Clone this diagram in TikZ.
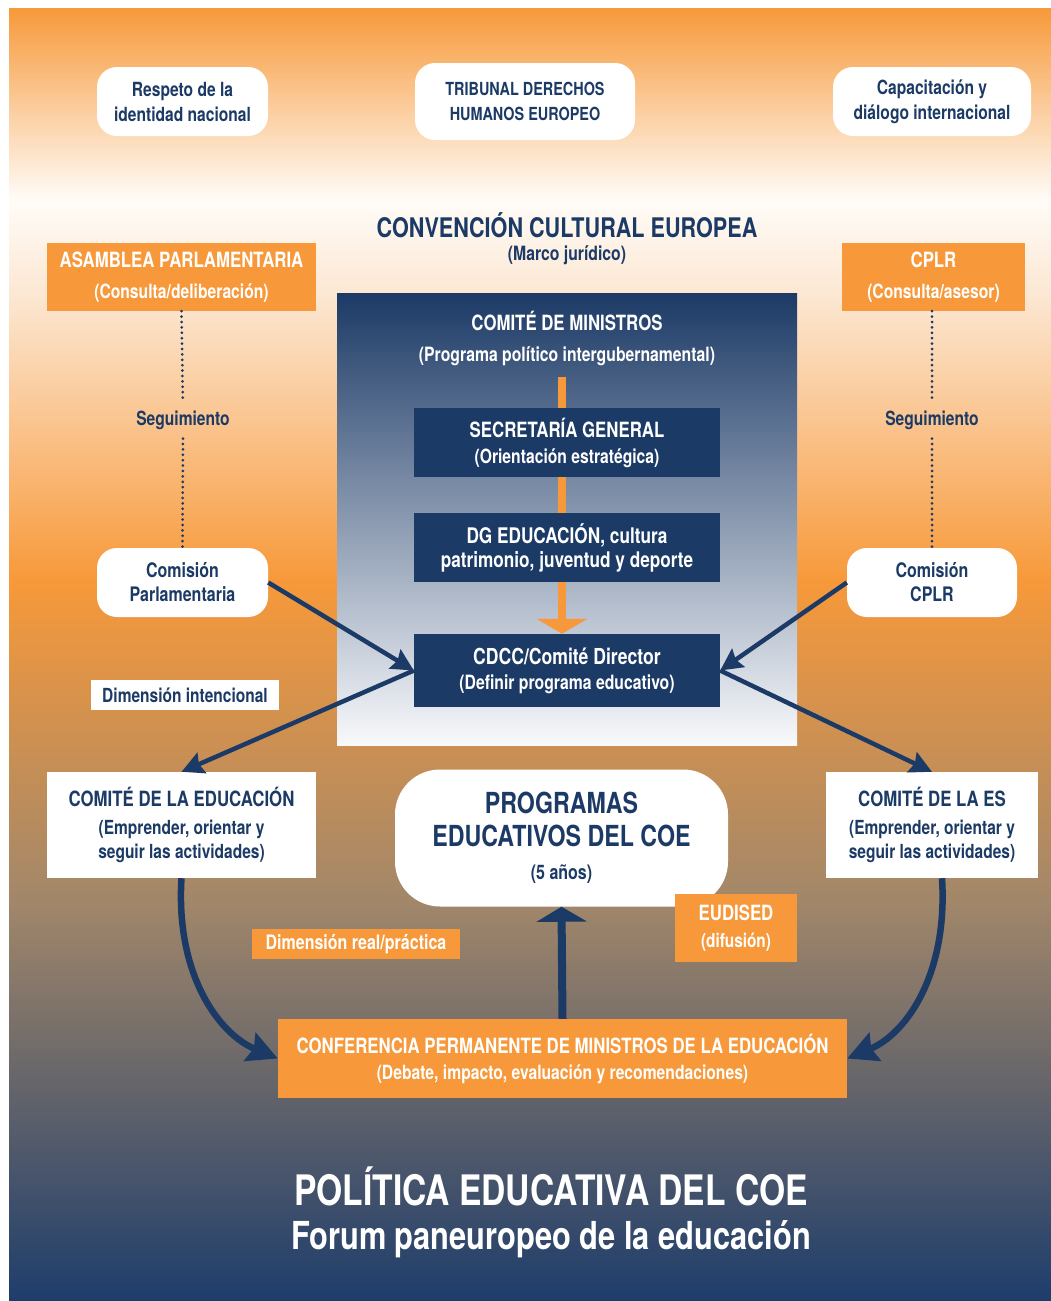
\documentclass[tikz,border=0pt]{standalone}
\usepackage{fontspec}
\setmainfont{TeX Gyre Heros}[FakeStretch=0.8]
\usetikzlibrary{arrows.meta}

\definecolor{coenavy}{HTML}{1C3A66}
\definecolor{coeorange}{HTML}{F7993A}
\definecolor{peach}{HTML}{FCE6D0}
\definecolor{nearwhite}{HTML}{FFFCF8}
\definecolor{bronze}{HTML}{A2876A}
\definecolor{deepnavy}{HTML}{1E3D6B}
\definecolor{paleblue}{HTML}{F8F9FB}

\pgfdeclarelayer{backdrop}
\pgfdeclarelayer{underlay}
\pgfsetlayers{backdrop,underlay,main}

\newcommand\boxhead[1]{{\fontsize{21}{21}\selectfont #1}}
\newcommand\proghead[1]{{\fontsize{29}{29}\selectfont #1}}

\tikzset{
    pill/.style = {fill=white, text=coenavy, rounded corners=20pt, align=center,
        inner sep=0pt, font=\bfseries\fontsize{19.5}{25}\selectfont},
    navybox/.style = {fill=coenavy, text=white, align=center, inner sep=0pt,
        minimum width=306pt, minimum height=69pt},
    orangebox/.style = {fill=coeorange, text=white, align=center, inner sep=0pt,
        font=\bfseries\fontsize{19.6}{31}\selectfont},
    whitebox/.style = {fill=white, text=coenavy, align=center, inner sep=0pt,
        font=\bfseries\fontsize{19.4}{24}\selectfont},
    label/.style = {text=coenavy, inner sep=0pt, font=\bfseries\fontsize{19.5}{22}\selectfont},
    follow/.style = {draw=coenavy, line width=3pt, line cap=round, dash pattern=on 0pt off 5.4pt},
    link/.style = {draw=coenavy, line width=4.5pt, -{Stealth[length=22pt,width=22pt,inset=3pt]}},
    bend link/.style = {draw=coenavy, line width=6.5pt, -{Stealth[length=30pt,width=30pt,inset=4pt]}},
    flow/.style = {line width=8pt, -{Triangle[length=15pt,width=50pt]}}
}

\begin{document}
\begin{tikzpicture}[x=1pt, y=-1pt]
    \useasboundingbox (0,0) rectangle (1051,1301);

    \begin{pgfonlayer}{backdrop}
        \fill[white] (0,0) rectangle (1051,1301);
        \shade[top color=coeorange, bottom color=nearwhite] (9,8) rectangle (1051,200.5);
        \shade[top color=nearwhite, bottom color=peach] (9,200) rectangle (1051,300.5);
        \shade[top color=peach, bottom color=coeorange] (9,300) rectangle (1051,580.5);
        \shade[top color=coeorange, bottom color=bronze] (9,580) rectangle (1051,900.5);
        \shade[top color=bronze, bottom color=deepnavy] (9,900) rectangle (1051,1301);
        \shade[top color=coenavy, bottom color=paleblue] (337,293) rectangle (797,745);
    \end{pgfonlayer}

    \node[pill, minimum width=171pt, minimum height=69pt] (respeto) at (182.5,101.5)
        {Respeto de la\\identidad nacional};
    \node[pill, minimum width=220pt, minimum height=77pt, font=\bfseries\fontsize{18}{25}\selectfont]
        (tribunal) at (525,101.5) {TRIBUNAL DERECHOS\\HUMANOS EUROPEO};
    \node[pill, minimum width=198pt, minimum height=69pt] (capacidad) at (932,101.5)
        {Capacitación y\\diálogo internacional};

    \node[label, font=\bfseries\fontsize{27}{30}\selectfont] (convencion) at (567,225)
        {CONVENCIÓN CULTURAL EUROPEA};
    \node[label, font=\bfseries\fontsize{19.7}{22}\selectfont] (marco) at (567,255.5)
        {(Marco jurídico)};

    \node[orangebox, minimum width=269pt, minimum height=68pt] (asamblea) at (181.5,277)
        {\boxhead{ASAMBLEA PARLAMENTARIA}\\(Consulta/deliberación)};
    \node[orangebox, minimum width=183pt, minimum height=68pt] (cplr) at (933.5,277)
        {\boxhead{CPLR}\\(Consulta/asesor)};

    \node[text=white, align=center, inner sep=0pt, font=\bfseries\fontsize{19.7}{31}\selectfont]
        (ministros) at (567,338)
        {\boxhead{COMITÉ DE MINISTROS}\\(Programa político intergubernamental)};
    \node[navybox, font=\bfseries\fontsize{19.6}{26}\selectfont] (secretaria) at (567,442.5)
        {\boxhead{SECRETARÍA GENERAL}\\(Orientación estratégica)};
    \node[navybox, font=\bfseries\fontsize{21.5}{24}\selectfont] (dg) at (567,547.5)
        {DG EDUCACIÓN, cultura\\patrimonio, juventud y deporte};
    \node[navybox, minimum height=73pt, font=\bfseries\fontsize{19.7}{25}\selectfont] (cdcc) at (567,670.5)
        {{\fontsize{22}{22}\selectfont CDCC/Comité Director}\\(Definir programa educativo)};

    \node[label] (seguirL) at (183,420) {Seguimiento};
    \node[label] (seguirR) at (932,420) {Seguimiento};

    \node[pill, minimum width=171pt, minimum height=69pt, font=\bfseries\fontsize{20}{24}\selectfont]
        (comparl) at (182.5,582.5) {Comisión\\Parlamentaria};
    \node[pill, minimum width=170pt, minimum height=69pt, font=\bfseries\fontsize{20}{24}\selectfont]
        (comcplr) at (932,582.5) {Comisión\\CPLR};

    \node[whitebox, minimum width=188pt, minimum height=30pt] (intencional) at (185,695)
        {Dimensión intencional};

    \node[whitebox, minimum width=269pt, minimum height=106pt] (comeduc) at (181.5,825)
        {\boxhead{COMITÉ DE LA EDUCACIÓN}\\[4pt](Emprender, orientar y\\seguir las actividades)};
    \node[whitebox, minimum width=212pt, minimum height=106pt] (comes) at (932,825)
        {\boxhead{COMITÉ DE LA ES}\\[4pt](Emprender, orientar y\\seguir las actividades)};

    \node[pill, rounded corners=45pt, minimum width=333pt, minimum height=137pt,
        font=\bfseries\fontsize{20}{33}\selectfont] (programas) at (561.5,838)
        {\proghead{PROGRAMAS}\\\proghead{EDUCATIVOS DEL COE}\\(5 años)};

    \node[orangebox, minimum width=122pt, minimum height=68pt, font=\bfseries\fontsize{19.2}{27}\selectfont]
        (eudised) at (736,928) {\boxhead{EUDISED}\\(difusión)};
    \node[orangebox, minimum width=208pt, minimum height=30pt, font=\bfseries\fontsize{20}{22}\selectfont]
        (practica) at (356,944) {Dimensión real/práctica};

    \node[orangebox, minimum width=569pt, minimum height=79pt, font=\bfseries\fontsize{19.6}{26}\selectfont]
        (conferencia) at (562.5,1058.5)
        {\boxhead{CONFERENCIA PERMANENTE DE MINISTROS DE LA EDUCACIÓN}\\(Debate, impacto, evaluación y recomendaciones)};

    \node[text=white, inner sep=0pt, font=\bfseries\fontsize{42}{44}\selectfont] (politica) at (551,1186)
        {POLÍTICA EDUCATIVA DEL COE};
    \node[text=white, inner sep=0pt, font=\bfseries\fontsize{38.5}{44}\selectfont] (forum) at (551,1239)
        {Forum paneuropeo de la educación};

    \coordinate (barTop) at (562,377);
    \begin{pgfonlayer}{underlay}
        \draw[flow, coeorange] (barTop) -- (barTop |- cdcc.north);
    \end{pgfonlayer}

    \draw[follow, shorten >=8pt] (asamblea.south) -- (seguirL.north);
    \draw[follow, shorten <=9pt] (seguirL.south) -- (comparl.north);
    \draw[follow, shorten >=8pt] (seguirR |- cplr.south) -- (seguirR.north);
    \draw[follow, shorten <=9pt] (seguirR.south) -- (comcplr.north);

    \draw[link] (comparl.east) -- (cdcc.west);
    \draw[link] (comcplr.west) -- (cdcc.east);
    \draw[link] (cdcc.west) -- (comeduc.north);
    \draw[link] (cdcc.east) -- (comes.north);

    \draw[bend link] (comeduc.south) .. controls +(-6,95) and +(-60,-25) .. (conferencia.west);
    \draw[bend link] ([xshift=10pt]comes.south) .. controls +(6,95) and +(60,-25) .. (conferencia.east);
    \draw[flow, coenavy] (conferencia.north) -- (programas.south);
\end{tikzpicture}
\end{document}
